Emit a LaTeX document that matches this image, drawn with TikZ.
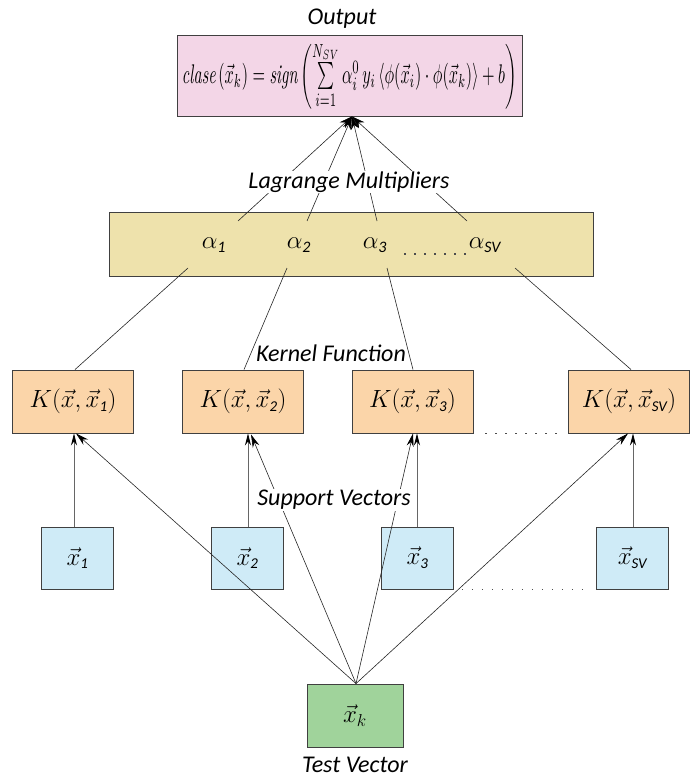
\documentclass[tikz,border=0pt]{standalone}
\usepackage{fontspec}
\usepackage{amsmath}
\usepackage{graphicx}
\newfontfamily\carl{Carlito}
\usetikzlibrary{arrows.meta,calc}
\definecolor{pinkc}{HTML}{F3D6E7}
\definecolor{khakic}{HTML}{EEE2AC}
\definecolor{peachc}{HTML}{FBD5A9}
\definecolor{bluec}{HTML}{CFEBF7}
\definecolor{testc}{HTML}{A0D39B}
\newcommand\sbt[2]{\hbox{\carl\itshape\fontsize{#1}{#1}\selectfont #2}}
\begin{document}
\begin{tikzpicture}[x=1pt,y=-1pt,
  box/.style={draw=black!75, line width=0.9pt, inner sep=0pt},
  lbl/.style={font=\carl\itshape\fontsize{24}{24}\selectfont, inner sep=1pt},
  wlbl/.style={lbl, fill=white},
  kbox/.style={box, fill=peachc, minimum width=121pt, minimum height=63pt, font=\fontsize{25}{25}\selectfont},
  xbox/.style={box, fill=bluec, minimum width=72pt, minimum height=62pt, font=\fontsize{26}{26}\selectfont},
  atxt/.style={inner sep=0pt, font=\fontsize{32}{32}\selectfont},
  conn/.style={draw=black!85, line width=0.6pt},
  vconn/.style={draw=black!60, line width=0.8pt, -{Stealth[length=12pt,width=6pt,black]}},
  dconn/.style={draw=black!85, line width=0.6pt, -{Stealth[length=13pt,width=7pt,black]}},
  oconn/.style={draw=black!85, line width=0.6pt, -{Stealth[length=13pt,width=8pt,black]}},
  dotrow/.style={draw=black!70, line width=1.3pt, dash pattern=on 1.3pt off 8.7pt}
]
\useasboundingbox (0,0) rectangle (693,781);

% boxes
\node[box, fill=pinkc, minimum width=345pt, minimum height=81pt] (out) at (349.5,75.5)
  {\resizebox*{335pt}{68pt}{$\textstyle \mathit{clase}\,(\vec{x}_k)=\mathit{sign}\left(\sum\limits_{i=1}^{N_{SV}}\alpha_i^0\,y_i\left\langle\phi(\vec{x}_i)\cdot\phi(\vec{x}_k)\right\rangle+b\right)$}};
\node[box, fill=khakic, minimum width=484pt, minimum height=64pt] (alpha) at (351,244) {};

\node[atxt] (a1) at (214,245) {$\alpha_{\sbt{16}{1}}$};
\node[atxt] (a2) at (299,245) {$\alpha_{\sbt{16}{2}}$};
\node[atxt] (a3) at (375,245) {$\alpha_{\sbt{16}{3}}$};
\node[atxt] (asv) at (485,245) {$\alpha_{\sbt{16}{SV}}$};
\draw[dotrow] ($(a3.east)+(17,9)$) -- ($(asv.west)+(2,9)$);

\node[kbox] (K1) at (73,401.5) {$K(\vec{x},\vec{x}_{\sbt{15}{1}})$};
\node[kbox] (K2) at (243,401.5) {$K(\vec{x},\vec{x}_{\sbt{15}{2}})$};
\node[kbox] (K3) at (412.5,401.5) {$K(\vec{x},\vec{x}_{\sbt{15}{3}})$};
\node[kbox] (Ksv) at (629,401.5) {$K(\vec{x},\vec{x}_{\sbt{15}{SV}})$};
\draw[dotrow] ($(K3.south east)+(12,0)$) -- ($(Ksv.south west)+(-8,0)$);

\node[xbox] (x1) at (77.5,558) {$\vec{x}_{\sbt{15}{1}}$};
\node[xbox] (x2) at (247.5,558) {$\vec{x}_{\sbt{15}{2}}$};
\node[xbox] (x3) at (417.5,558) {$\vec{x}_{\sbt{15}{3}}$};
\node[xbox] (xsv) at (632.5,558) {$\vec{x}_{\sbt{15}{SV}}$};
\draw[dotrow] ($(x3.south east)+(8,0)$) -- ($(xsv.south west)+(-5,0)$);

\node[box, fill=testc, minimum width=96pt, minimum height=63pt, font=\fontsize{26}{26}\selectfont] (test) at (355,715.5) {$\vec{x}_{k}$};

% output arrows
\coordinate (otip) at ($(out.south)+(2.5,0)$);
\coordinate (s1) at (238,221);
\coordinate (s2) at (307,221);
\coordinate (s3) at (377,221);
\coordinate (s4) at (467,221);
\foreach \s in {s1,s2,s3,s4} \draw[oconn] (\s) -- (otip);

% alpha to kernel
\coordinate (b1) at (188,268);
\coordinate (b2) at (287,268);
\coordinate (b3) at (387,268);
\coordinate (b4) at (515,268);
\draw[conn] (b1) -- ($(K1.north)+(2,0)$);
\draw[conn] (b2) -- ($(K2.north)+(1,0)$);
\draw[conn] (b3) -- ($(K3.north)+(0.5,0)$);
\draw[conn] (b4) -- ($(Ksv.north)+(2,0)$);

% support vectors to kernels
\coordinate (v1) at ($(x1.north)+(-3.5,0)$);
\coordinate (v2) at ($(x2.north)+(0.5,0)$);
\coordinate (v3) at ($(x3.north)+(-0.5,0)$);
\coordinate (v4) at ($(xsv.north)+(0.5,0)$);
\draw[vconn] (v1) -- (v1 |- K1.south);
\draw[vconn] (v2) -- (v2 |- K2.south);
\draw[vconn] (v3) -- (v3 |- K3.south);
\draw[vconn] (v4) -- (v4 |- Ksv.south);

% test vector to kernels
\coordinate (ttop) at ($(test.north)+(1,0)$);
\draw[dconn] (ttop) -- ($(K1.south)+(3,0)$);
\draw[dconn] (ttop) -- ($(K2.south)+(8,1)$);
\draw[dconn] (ttop) -- ($(K3.south)+(0.5,0)$);
\draw[dconn] (ttop) -- ($(Ksv.south)+(-1,0)$);

% labels
\node[lbl] (lout) at (342,19) {Output};
\node[wlbl] (llag) at (349,182) {Lagrange Multipliers};
\node[wlbl, inner sep=0pt] (lker) at (331,353) {Kernel Function};
\node[wlbl] (lsup) at (334,500) {Support Vectors};
\node[lbl] (ltest) at (355,765) {Test Vector};
\end{tikzpicture}
\end{document}
